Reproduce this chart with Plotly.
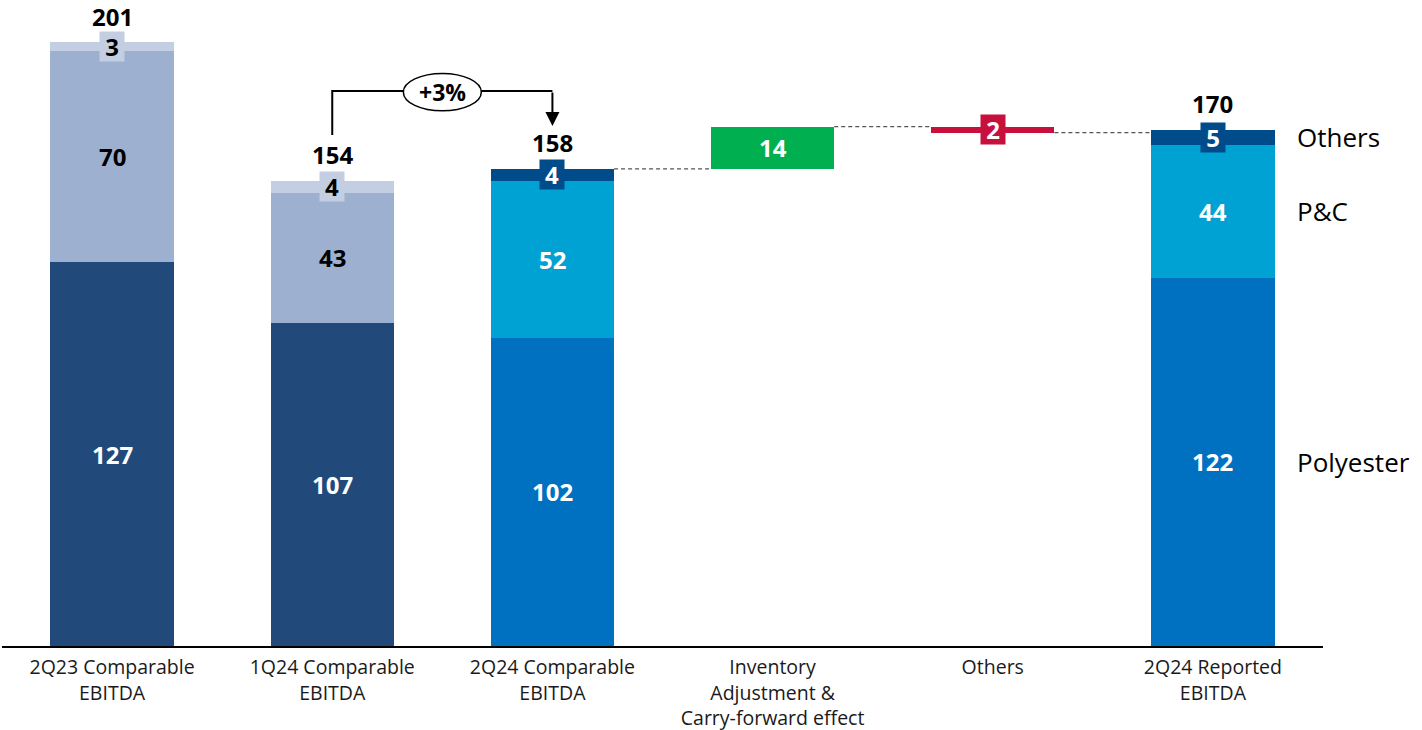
import plotly.graph_objects as go

# Categories along the x axis
categories = [
    "2Q23 Comparable<br>EBITDA",
    "1Q24 Comparable<br>EBITDA",
    "2Q24 Comparable<br>EBITDA",
    "Inventory<br>Adjustment &<br>Carry-forward effect",
    "Others",
    "2Q24 Reported<br>EBITDA",
]

# Stacked columns (2Q23, 1Q24, 2Q24 comparable, 2Q24 reported)
stack_idx = [0, 1, 2, 5]
polyester = [127, 107, 102, 122]
pc = [70, 43, 52, 44]
others_seg = [3, 4, 4, 5]
totals = [201, 154, 158, 170]

# Bridge steps from 2Q24 comparable to reported
bridge_idx = [3, 4]
bridge = [14, -2]
bridge_colors = ["#00B050", "#C8103C"]

segment_names = ["Polyester", "P&C", "Others"]
polyester_colors = ["#214A7B", "#214A7B", "#0070C0", "#0070C0"]
pc_colors = ["#9DB0CF", "#9DB0CF", "#00A2D3", "#00A2D3"]
others_colors = ["#C3CEE2", "#C3CEE2", "#004C8A", "#004C8A"]
pc_text = ["#000000", "#000000", "#FFFFFF", "#FFFFFF"]
others_text = ["#000000", "#000000", "#FFFFFF", "#FFFFFF"]

FONT = "Open Sans"
BAR_W = 0.56

xs = [categories[i] for i in stack_idx]
fig = go.Figure()
for vals, cols in [(polyester, polyester_colors), (pc, pc_colors), (others_seg, others_colors)]:
    fig.add_trace(go.Bar(x=xs, y=vals, marker=dict(color=cols, line=dict(width=0)),
                         width=BAR_W, hoverinfo="skip"))

# Waterfall steps: each starts where the previous level ended
level = totals[2]
bases = []
for d in bridge:
    bases.append(level)
    level += d
fig.add_trace(go.Bar(x=[categories[i] for i in bridge_idx], y=bridge, base=bases,
                     marker=dict(color=bridge_colors, line=dict(width=0)),
                     width=BAR_W, hoverinfo="skip"))

annotations = []
# Segment value labels
for k, i in enumerate(stack_idx):
    p, c, o = polyester[k], pc[k], others_seg[k]
    annotations.append(dict(x=categories[i], y=p / 2, text=f"<b>{p}</b>", showarrow=False,
                            font=dict(size=24, color="#FFFFFF", family=FONT)))
    annotations.append(dict(x=categories[i], y=p + c / 2, text=f"<b>{c}</b>", showarrow=False,
                            font=dict(size=24, color=pc_text[k], family=FONT)))
    annotations.append(dict(x=categories[i], y=p + c + o / 2, text=f"<b>{o}</b>", showarrow=False,
                            font=dict(size=24, color=others_text[k], family=FONT),
                            bgcolor=others_colors[k], borderpad=0, width=24, height=29))
    annotations.append(dict(x=categories[i], y=p + c + o, yshift=26, text=f"<b>{totals[k]}</b>",
                            showarrow=False, font=dict(size=24, color="#000000", family=FONT)))

# Bridge labels
annotations.append(dict(x=categories[3], y=bases[0] + bridge[0] / 2, text=f"<b>{bridge[0]}</b>",
                        showarrow=False, font=dict(size=24, color="#FFFFFF", family=FONT)))
annotations.append(dict(x=categories[4], y=bases[1] + bridge[1] / 2, text=f"<b>{abs(bridge[1])}</b>",
                        showarrow=False, font=dict(size=24, color="#FFFFFF", family=FONT),
                        bgcolor=bridge_colors[1], borderpad=0, width=24, height=29))

# Segment legend at the right of the reported column
k_last = len(stack_idx) - 1
mids = [polyester[k_last] / 2,
        polyester[k_last] + pc[k_last] / 2,
        polyester[k_last] + pc[k_last] + others_seg[k_last] / 2]
for name, m in zip(segment_names, mids):
    annotations.append(dict(x=5.375, xref="x", y=m, text=name, showarrow=False, xanchor="left",
                            font=dict(size=26, color="#000000", family=FONT)))

shapes = []
# Dashed connectors between the bridge steps
levels = [totals[2], totals[2] + bridge[0], totals[2] + bridge[0] + bridge[1]]
for j, lv in enumerate(levels):
    x0 = 2 + j + BAR_W / 2
    x1 = 3 + j - BAR_W / 2
    shapes.append(dict(type="line", xref="x", yref="y", x0=x0, x1=x1, y0=lv, y1=lv,
                       line=dict(color="#555555", width=1.3, dash="4px,3px")))

# Growth bracket from 1Q24 to 2Q24 comparable
bracket_top = 183.8
shapes.append(dict(type="path", xref="x", yref="y",
                   path=f"M 1,{totals[1] + 15.2} L 1,{bracket_top} L 2,{bracket_top}",
                   line=dict(color="#000000", width=2)))
annotations.append(dict(x=2, y=totals[2] + 14.2, ax=2, ay=bracket_top, xref="x", yref="y",
                        axref="x", ayref="y", showarrow=True, arrowhead=2, arrowsize=1.4,
                        arrowwidth=2, arrowcolor="#000000", text=""))
shapes.append(dict(type="circle", xref="x", yref="y", x0=1.323, x1=1.677, y0=177.2, y1=189.6,
                   line=dict(color="#000000", width=1.5), fillcolor="#FFFFFF"))
annotations.append(dict(x=1.5, y=183.4, xref="x", yref="y", text="<b>+3%</b>", showarrow=False,
                        font=dict(size=23, color="#000000", family=FONT)))

fig.update_layout(
    width=1422, height=730,
    margin=dict(l=2, r=99, t=10, b=84),
    barmode="stack",
    showlegend=False,
    plot_bgcolor="#FFFFFF", paper_bgcolor="#FFFFFF",
    annotations=annotations,
    shapes=shapes,
    font=dict(family=FONT),
    xaxis=dict(type="category", categoryorder="array", categoryarray=categories,
               range=[-0.5, 5.5], showline=True, linecolor="#000000", linewidth=2,
               ticks="", ticklabelstandoff=3, automargin=False,
               tickfont=dict(size=19.5, color="#1A1A1A", family=FONT),
               showgrid=False, zeroline=False),
    yaxis=dict(visible=False, range=[0, 210.6], showgrid=False, zeroline=False,
               automargin=False),
)

fig.write_html("out.html")
